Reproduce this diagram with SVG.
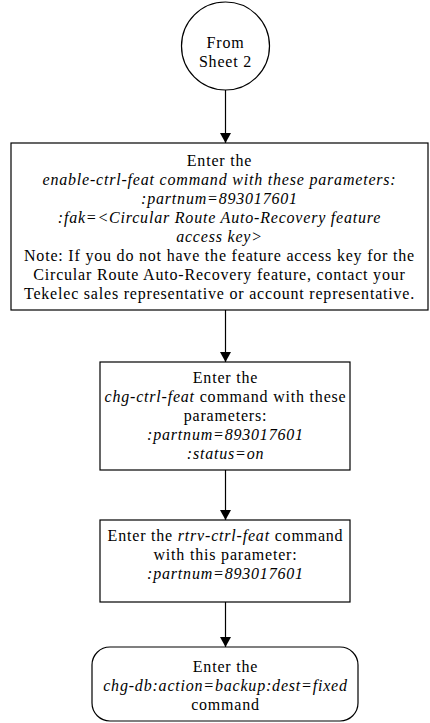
<svg xmlns="http://www.w3.org/2000/svg" width="430" height="723" viewBox="0 0 430 723">
<style>
.s{fill:#fff;stroke:#000;stroke-width:1.2}
text{font-family:"Liberation Serif","Times New Roman",serif;font-size:16px;fill:#000;text-anchor:middle;letter-spacing:0.8px}
.i{font-style:italic}
.c{stroke:#000;stroke-width:1.2;fill:none}
</style>
<defs>
<marker id="ah" markerWidth="12" markerHeight="11" refX="11" refY="6" orient="auto" markerUnits="userSpaceOnUse" viewBox="0 0 11 12">
<path d="M0,0 L11,6 L0,12 Z" fill="#000"/>
</marker>
</defs>
<g id="connectors">
<line class="c" x1="225.5" y1="90" x2="225.5" y2="143" marker-end="url(#ah)"/>
<line class="c" x1="225.5" y1="310" x2="225.5" y2="362" marker-end="url(#ah)"/>
<line class="c" x1="225.5" y1="470" x2="225.5" y2="520" marker-end="url(#ah)"/>
<line class="c" x1="225.5" y1="602" x2="225.5" y2="647" marker-end="url(#ah)"/>
</g>
<g id="start">
<circle class="s" cx="225.5" cy="46" r="44"/>
<text x="225.5" y="48">From</text>
<text x="225.5" y="67">Sheet 2</text>
</g>
<g id="enable">
<rect class="s" x="11" y="143" width="417" height="167"/>
<text x="219.5" y="166">Enter the</text>
<text x="219.5" y="185" class="i">enable-ctrl-feat command with these parameters:</text>
<text x="219.5" y="204" class="i">:partnum=893017601</text>
<text x="219.5" y="223" class="i">:fak=&lt;Circular Route Auto-Recovery feature</text>
<text x="219.5" y="242" class="i">access key&gt;</text>
<text x="219.5" y="261">Note: If you do not have the feature access key for the</text>
<text x="219.5" y="280">Circular Route Auto-Recovery feature, contact your</text>
<text x="219.5" y="299">Tekelec sales representative or account representative.</text>
</g>
<g id="chg">
<rect class="s" x="100" y="362" width="250" height="108"/>
<text x="225.5" y="383">Enter the</text>
<text x="225.5" y="402"><tspan class="i">chg-ctrl-feat</tspan> command with these</text>
<text x="225.5" y="421">parameters:</text>
<text x="225.5" y="440" class="i">:partnum=893017601</text>
<text x="225.5" y="459" class="i">:status=on</text>
</g>
<g id="rtrv">
<rect class="s" x="100" y="520" width="250" height="82"/>
<text x="225.5" y="541">Enter the <tspan class="i">rtrv-ctrl-feat</tspan> command</text>
<text x="225.5" y="560">with this parameter:</text>
<text x="225.5" y="579" class="i">:partnum=893017601</text>
</g>
<g id="backup">
<rect class="s" x="92" y="647" width="266" height="74" rx="18"/>
<text x="225.5" y="672">Enter the</text>
<text x="225.5" y="691" class="i">chg-db:action=backup:dest=fixed</text>
<text x="225.5" y="710">command</text>
</g>
</svg>
